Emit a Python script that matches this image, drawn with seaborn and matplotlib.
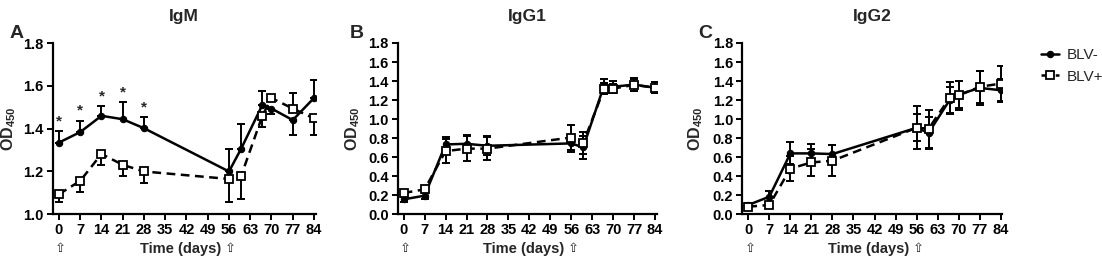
import numpy as np
import pandas as pd
import matplotlib
matplotlib.use('Agg')
import matplotlib.pyplot as plt
import matplotlib.transforms as mtransforms
import seaborn as sns

# sampling days
days = [0, 7, 14, 21, 28, 56, 60, 67, 70, 77, 84]
day_ticks = [0, 7, 14, 21, 28, 35, 42, 49, 56, 63, 70, 77, 84]
boost_days = [0, 56]

# IgM (one-sided error bars)
igm_neg = [1.335, 1.384, 1.46, 1.444, 1.402, 1.20, 1.306, 1.511, 1.494, 1.44, 1.543]
igm_neg_hi = [0.055, 0.054, 0.047, 0.08, 0.052, 0.106, 0.114, 0.066, 0.0, 0.0, 0.082]
igm_neg_lo = [0, 0, 0, 0, 0, 0, 0, 0, 0.026, 0.07, 0]
igm_pos = [1.094, 1.156, 1.282, 1.231, 1.20, 1.165, 1.179, 1.46, 1.543, 1.494, 1.448]
igm_pos_lo = [0.038, 0.05, 0.051, 0.05, 0.055, 0.106, 0.109, 0.053, 0.0, 0.0, 0.078]
igm_pos_hi = [0, 0, 0, 0, 0, 0, 0, 0, 0.012, 0.074, 0]
igm_star_days = [0, 7, 14, 21, 28]

# IgG1
igg1_neg = [0.157, 0.196, 0.734, 0.741, 0.72, 0.745, 0.703, 1.356, 1.34, 1.363, 1.33]
igg1_neg_err = [0.03, 0.04, 0.075, 0.09, 0.1, 0.09, 0.12, 0.07, 0.06, 0.07, 0.06]
igg1_pos = [0.224, 0.262, 0.664, 0.69, 0.69, 0.807, 0.75, 1.32, 1.32, 1.36, 1.33]
igg1_pos_err = [0.03, 0.04, 0.125, 0.13, 0.12, 0.135, 0.12, 0.06, 0.05, 0.06, 0.06]

# IgG2
igg2_neg = [0.098, 0.185, 0.64, 0.64, 0.633, 0.909, 0.856, 1.20, 1.258, 1.328, 1.304]
igg2_neg_err = [0.02, 0.055, 0.115, 0.1, 0.09, 0.225, 0.17, 0.14, 0.14, 0.18, 0.12]
igg2_pos = [0.08, 0.098, 0.48, 0.545, 0.563, 0.909, 0.90, 1.223, 1.25, 1.339, 1.374]
igg2_pos_err = [0.02, 0.03, 0.13, 0.14, 0.16, 0.14, 0.2, 0.17, 0.15, 0.17, 0.18]

panels = [
    dict(title='IgM', letter='A', ylim=(1.0, 1.8), yticks=np.arange(1.0, 1.81, 0.2),
         neg=igm_neg, neg_err=[igm_neg_lo, igm_neg_hi],
         pos=igm_pos, pos_err=[igm_pos_lo, igm_pos_hi],
         px=(52.9, 315.5), letter_x=17, ylab_x=-0.133),
    dict(title='IgG1', letter='B', ylim=(0.0, 1.8), yticks=np.arange(0.0, 1.81, 0.2),
         neg=igg1_neg, neg_err=igg1_neg_err, pos=igg1_pos, pos_err=igg1_pos_err,
         px=(397.7, 656.5), letter_x=357, ylab_x=-0.139),
    dict(title='IgG2', letter='C', ylim=(0.0, 1.8), yticks=np.arange(0.0, 1.81, 0.2),
         neg=igg2_neg, neg_err=igg2_neg_err, pos=igg2_pos, pos_err=igg2_pos_err,
         px=(742.3, 1002.2), letter_x=705, ylab_x=-0.142),
]

sns.set_style('ticks')
plt.rcParams['font.family'] = ['Liberation Sans', 'DejaVu Sans']
plt.rcParams['mathtext.fontset'] = 'custom'
plt.rcParams['mathtext.rm'] = 'Liberation Sans'
plt.rcParams['mathtext.bf'] = 'Liberation Sans:bold'

W, H = 1102, 257
fig = plt.figure(figsize=(W / 100, H / 100), dpi=100)

top_px, bot_px = 43.0, 214.3
handles = None
for p in panels:
    l, r = p['px']
    ax = fig.add_axes([l / W, 1 - bot_px / H, (r - l) / W, (bot_px - top_px) / H])

    ax.errorbar(days, p['neg'], yerr=p['neg_err'], fmt='none', ecolor='black',
                elinewidth=1.4, capsize=3.2, capthick=1.4, zorder=2)
    ax.errorbar(days, p['pos'], yerr=p['pos_err'], fmt='none', ecolor='black',
                elinewidth=1.4, capsize=3.2, capthick=1.4, zorder=2)
    sns.lineplot(x=days, y=p['neg'], ax=ax, color='black', lw=1.8, marker='o',
                 markersize=4.6, markeredgecolor='black', label='BLV-', legend=False, zorder=3)
    sns.lineplot(x=days, y=p['pos'], ax=ax, color='black', lw=1.8, marker='s',
                 markersize=5.8, markerfacecolor='white', markeredgecolor='black',
                 markeredgewidth=1.3, label='BLV+', legend=False, zorder=4)
    ax.lines[-1].set_dashes((3.5, 2.2))

    ax.set_xlim(-2, 84.5)
    ax.set_ylim(*p['ylim'])
    ax.set_xticks(day_ticks)
    ax.set_xticklabels([str(d) for d in day_ticks])
    ax.set_yticks(p['yticks'])
    ax.set_yticklabels([f'{v:.1f}' for v in p['yticks']])
    sns.despine(ax=ax)
    for s in ['left', 'bottom']:
        ax.spines[s].set_linewidth(1.6)
        ax.spines[s].set_color('black')
    ax.tick_params(axis='both', direction='out', length=4.5, width=1.4, colors='black',
                   labelsize=10.5, pad=2)
    for t in ax.get_xticklabels() + ax.get_yticklabels():
        t.set_fontweight('bold')

    ax.set_ylabel(r'$\mathbf{OD}_{\mathbf{450}}$', fontsize=11.5)
    ax.yaxis.set_label_coords(p['ylab_x'], 0.5)
    ax.set_xlabel('Time (days)', fontsize=10.5, fontweight='bold', va='center')
    ax.xaxis.set_label_coords(0.487, -0.2)

    # booster arrows under day 0 and day 56
    trans = mtransforms.blended_transform_factory(ax.transData, ax.transAxes)
    for d in boost_days:
        ax.text(d + 0.6, -0.2, '\u21e7', transform=trans, ha='center', va='center',
                fontsize=9.5, family=['DejaVu Sans'])

    ax.text(0.5, (bot_px - 17) / (bot_px - top_px), p['title'], transform=ax.transAxes,
            ha='center', va='center', fontsize=12.5, fontweight='bold')
    fig.text(p['letter_x'] / W, 1 - 34 / H, p['letter'], ha='center', va='center',
             fontsize=14, fontweight='bold')

    if p['title'] == 'IgM':
        for d in igm_star_days:
            i = days.index(d)
            ax.text(d, p['neg'][i] + igm_neg_hi[i] + 0.012, '*', ha='center', va='bottom',
                    fontsize=11, fontweight='bold')
    handles = ax.lines

leg_handles = [h for h in handles if h.get_label() in ('BLV-', 'BLV+')]
fig.legend(handles=leg_handles, labels=['BLV-', 'BLV+'], loc='center left',
           bbox_to_anchor=(1033 / W, 1 - 66 / H), frameon=False, fontsize=11,
           handlelength=1.2, handletextpad=0.5, labelspacing=0.5, borderpad=0)

fig.savefig('out.png', dpi=100)
